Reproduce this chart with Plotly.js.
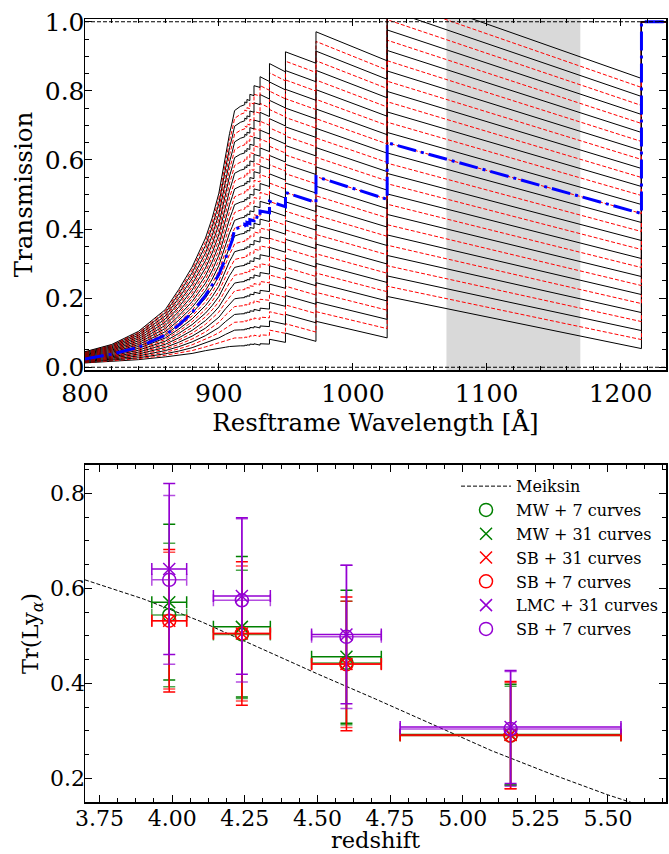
<!DOCTYPE html>
<html>
<head>
<meta charset="utf-8">
<script src="https://cdn.plot.ly/plotly-3.0.1.min.js"></script>
<style>html,body{margin:0;padding:0;background:#fff}#chart{width:669px;height:854px}</style>
</head>
<body>
<div id="chart"></div>
<script>
// ---------------- Top panel data ----------------
// rest-frame wavelength nodes (Å); repeated values are the Lyman-series jumps
const waveNodes = [800, 820, 840, 860, 870, 880, 890, 895, 900, 905, 908, 910, 911.75, 916,
  919.35, 919.35, 920.96, 920.96, 923.15, 923.15, 926.23, 926.23, 930.75, 930.75,
  937.80, 937.80, 949.74, 949.74, 972.54, 972.54, 1025.72, 1025.72, 1215.67, 1215.67, 1234];
// lowest curve of the family
const lowT = [0.0125, 0.017, 0.022, 0.030, 0.034, 0.040, 0.048, 0.052, 0.055, 0.058, 0.060, 0.061, 0.062, 0.062,
  0.062, 0.064, 0.063, 0.065, 0.064, 0.067, 0.066, 0.068, 0.064, 0.068,
  0.067, 0.081, 0.072, 0.099, 0.075, 0.133, 0.085, 0.205, 0.054, 1.0, 1.0];
// highest curve of the family
const highT = [0.045, 0.066, 0.104, 0.167, 0.225, 0.290, 0.374, 0.432, 0.504, 0.615, 0.677, 0.710, 0.743, 0.755,
  0.760, 0.768, 0.765, 0.775, 0.772, 0.790, 0.786, 0.815, 0.810, 0.841,
  0.827, 0.879, 0.855, 0.913, 0.880, 0.971, 0.887, 1.095, 0.836, 1.0, 1.0];
// mean transmission (blue dash-dot)
const meanT = [0.024, 0.038, 0.058, 0.093, 0.122, 0.158, 0.208, 0.238, 0.268, 0.315, 0.345, 0.368, 0.400, 0.406,
  0.409, 0.414, 0.412, 0.419, 0.416, 0.427, 0.424, 0.436, 0.432, 0.452,
  0.447, 0.480, 0.465, 0.506, 0.477, 0.552, 0.486, 0.650, 0.445, 1.0, 1.0];
// 31 curves, evenly stepped between the lowest and highest one
const curveLevels = [0, 1, 2, 3, 4, 5, 6, 7, 8, 9, 10, 11, 12, 13, 14, 15,
  16, 17, 18, 19, 20, 21, 22, 23, 24, 25, 26, 27, 28, 29, 30];
const shadeBand = [1070, 1170];
const refLevels = [0, 1];

// ---------------- Bottom panel data ----------------
const zGroups = [3.99, 4.24, 4.60, 5.165];
const zErr = [0.06, 0.098, 0.12, 0.38];
const meiksinZ = [3.70, 3.90, 4.10, 4.30, 4.50, 4.70, 4.90, 5.10, 5.30, 5.50, 5.60];
const meiksinT = [0.618, 0.578, 0.530, 0.475, 0.420, 0.367, 0.312, 0.258, 0.210, 0.165, 0.145];

const mw7T = [0.544, 0.503, 0.443, 0.290];   const mw7Err = [0.151, 0.135, 0.130, 0.104];
const mw31T = [0.571, 0.519, 0.456, 0.292];  const mw31Err = [0.164, 0.148, 0.140, 0.106];
const sb31T = [0.532, 0.505, 0.441, 0.291];  const sb31Err = [0.150, 0.151, 0.141, 0.113];
const sb7T = [0.532, 0.505, 0.440, 0.290];   const sb7Err = [0.144, 0.142, 0.133, 0.112];
const lmc31T = [0.641, 0.584, 0.503, 0.308]; const lmc31Err = [0.180, 0.165, 0.146, 0.119];
const lmc7T = [0.618, 0.575, 0.498, 0.304];  const lmc7Err = [0.178, 0.172, 0.151, 0.121];

const seriesNames = ['MW + 7 curves', 'MW + 31 curves', 'SB + 31 curves', 'SB + 7 curves', 'LMC + 31 curves', 'SB + 7 curves'];
const seriesT = [mw7T, mw31T, sb31T, sb7T, lmc31T, lmc7T];
const seriesErr = [mw7Err, mw31Err, sb31Err, sb7Err, lmc31Err, lmc7Err];
const seriesColors = ['#008000', '#008000', '#ff0000', '#ff0000', '#9400d3', '#9400d3'];
const seriesBarColors = ['rgba(0,128,0,0.7)', '#008000', '#ff0000', 'rgba(255,0,0,0.7)', '#9400d3', 'rgba(148,0,211,0.7)'];
const seriesSymbols = ['circle-open', 'x-thin', 'x-thin', 'circle-open', 'x-thin', 'circle-open'];

// ---------------- Traces ----------------
const traces = [];
curveLevels.forEach((lv, i) => {
  const f = lv / (curveLevels.length - 1);
  traces.push({
    type: 'scatter', mode: 'lines', xaxis: 'x', yaxis: 'y',
    x: waveNodes,
    y: waveNodes.map((_, j) => lowT[j] + f * (highT[j] - lowT[j])),
    line: {color: i % 2 === 0 ? '#000000' : '#ff0000', width: 1, dash: i % 2 === 0 ? 'solid' : '4px,2px'},
    hoverinfo: 'skip', showlegend: false
  });
});
traces.push({
  type: 'scatter', mode: 'lines', xaxis: 'x', yaxis: 'y',
  x: waveNodes, y: meanT,
  line: {color: '#0000ff', width: 3, dash: '19px,5px,3px,5px'},
  hoverinfo: 'skip', showlegend: false
});

traces.push({
  type: 'scatter', mode: 'lines', xaxis: 'x2', yaxis: 'y2',
  x: meiksinZ, y: meiksinT, name: 'Meiksin',
  line: {color: '#000000', width: 1, dash: '4px,2px'}, hoverinfo: 'skip'
});
seriesNames.forEach((nm, i) => {
  const c = seriesColors[i];
  const ec = seriesBarColors[i];
  const open = seriesSymbols[i] === 'circle-open';
  traces.push({
    type: 'scatter', mode: 'markers', xaxis: 'x2', yaxis: 'y2',
    x: zGroups, y: seriesT[i], name: nm,
    error_x: {type: 'data', array: zErr, visible: true, color: ec, thickness: 1.5, width: 6},
    error_y: {type: 'data', array: seriesErr[i], visible: true, color: ec, thickness: 1.5, width: 6},
    marker: {symbol: seriesSymbols[i], size: open ? 13 : 12, color: c, line: {color: c, width: 1.5}},
    hoverinfo: 'skip'
  });
});

// ---------------- Layout ----------------
const axBase = {
  ticks: 'inside', ticklen: 7, tickwidth: 1, tickcolor: '#000',
  mirror: 'allticks', showline: true, linecolor: '#000', linewidth: 1.5,
  showgrid: false, zeroline: false, automargin: false
};
const minorBase = {ticks: 'inside', ticklen: 4, tickwidth: 1, tickcolor: '#000', showgrid: false};
const topTickFont = {family: 'DejaVu Serif', size: 25, color: '#000'};
const botTickFont = {family: 'DejaVu Serif', size: 22, color: '#000'};

const shapes = [{
  type: 'rect', xref: 'x', yref: 'y domain', x0: shadeBand[0], x1: shadeBand[1], y0: 0, y1: 1,
  fillcolor: '#d9d9d9', line: {width: 0}, layer: 'below'
}];
refLevels.forEach(v => shapes.push({
  type: 'line', xref: 'x domain', yref: 'y', x0: 0, x1: 1, y0: v, y1: v,
  line: {color: '#000', width: 1, dash: '4px,2px'}, layer: 'above'
}));

const layout = {
  width: 669, height: 854,
  margin: {l: 85, r: 3, t: 19, b: 52},
  paper_bgcolor: '#ffffff', plot_bgcolor: 'rgba(0,0,0,0)',
  font: {family: 'DejaVu Serif', color: '#000'},
  showlegend: true,
  xaxis: Object.assign({}, axBase, {
    domain: [0, 1], anchor: 'y', range: [800, 1234], tick0: 800, dtick: 100,
    tickfont: topTickFont,
    minor: Object.assign({}, minorBase, {dtick: 20}),
    title: {text: 'Resftrame Wavelength [Å]', font: {size: 24.5}, standoff: 5}
  }),
  yaxis: Object.assign({}, axBase, {
    domain: [0.5517, 1], anchor: 'x', range: [-0.008, 1.008], tick0: 0, dtick: 0.2, tickformat: '.1f',
    tickfont: topTickFont, ticklabelstandoff: -6,
    minor: Object.assign({}, minorBase, {dtick: 0.05}),
    title: {text: 'Transmission', font: {size: 24.5}, standoff: 5}
  }),
  xaxis2: Object.assign({}, axBase, {
    domain: [0, 1], anchor: 'y2', range: [3.70, 5.70], tick0: 3.75, dtick: 0.25, tickformat: '.2f',
    tickfont: botTickFont, ticklabelstandoff: -4,
    minor: Object.assign({}, minorBase, {dtick: 0.0625})
  }),
  yaxis2: Object.assign({}, axBase, {
    domain: [0, 0.4304], anchor: 'x2', range: [0.15, 0.86], tick0: 0.2, dtick: 0.2, tickformat: '.1f',
    tickfont: botTickFont, ticklabelstandoff: -6,
    minor: Object.assign({}, minorBase, {dtick: 0.05}),
    title: {text: 'Tr(Ly<sub><i>α</i></sub>)', font: {size: 22.5}, standoff: 5}
  }),
  annotations: [{
    text: 'redshift', xref: 'paper', yref: 'paper', x: 0.5, y: -0.0664,
    xanchor: 'center', yanchor: 'bottom', showarrow: false, borderpad: 0,
    font: {family: 'DejaVu Serif', size: 22.5, color: '#000'}
  }],
  legend: {
    x: 0.6386, y: 0.425, xanchor: 'left', yanchor: 'top', itemwidth: 50,
    bgcolor: 'rgba(0,0,0,0)', borderwidth: 0,
    font: {family: 'DejaVu Serif', size: 16, color: '#000'}
  },
  shapes: shapes
};

Plotly.newPlot('chart', traces, layout, {displayModeBar: false, staticPlot: true});
</script>
</body>
</html>
